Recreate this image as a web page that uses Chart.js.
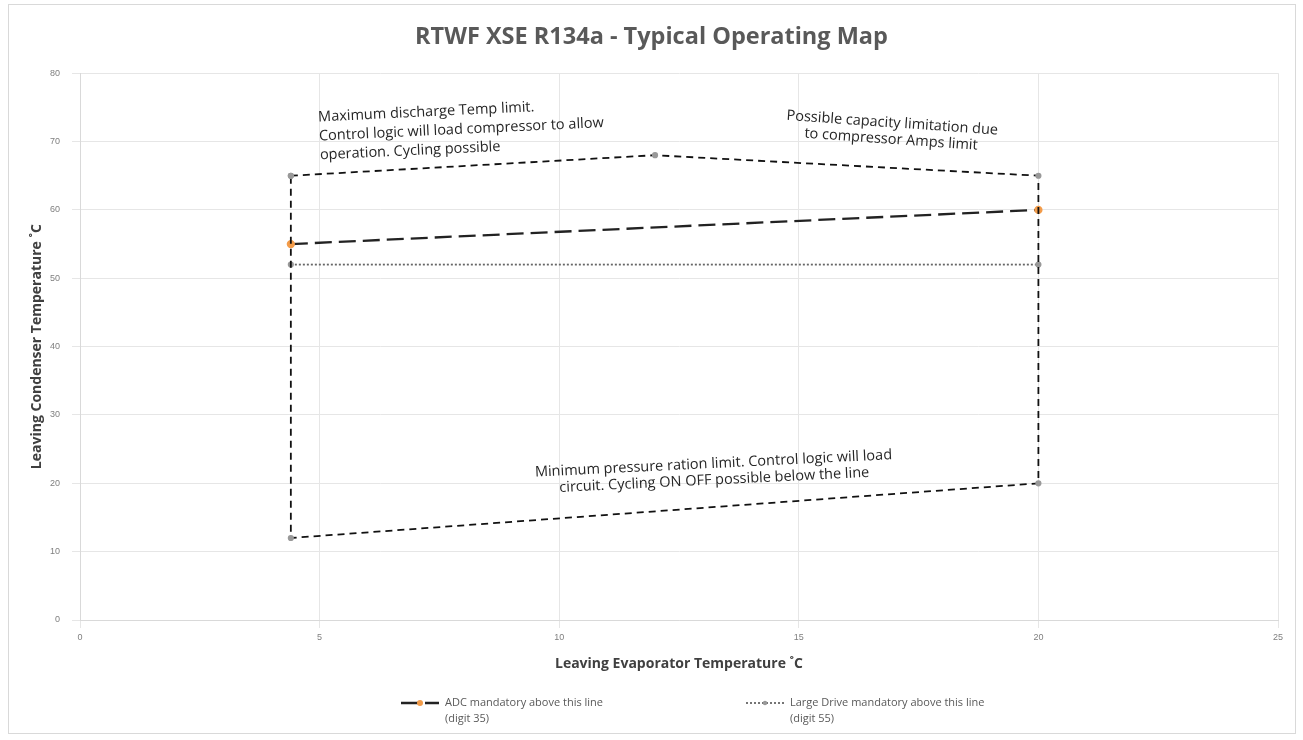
<!DOCTYPE html>
<html>
<head>
<meta charset="utf-8">
<script src="https://cdn.jsdelivr.net/npm/chart.js@4.4.1/dist/chart.umd.min.js"></script>
<style>
  html,body{margin:0;padding:0;background:#fff;}
  #wrap{position:absolute;left:8px;top:4px;width:1288px;height:730px;border:1px solid #d9d9d9;box-sizing:border-box;}
  canvas{display:block;}
</style>
</head>
<body>
<div id="wrap"><canvas id="c"></canvas></div>
<script>
// operating envelope (closed outline)
const envX = [4.4, 12, 20, 20, 4.4, 4.4];
const envY = [65, 68, 65, 20, 12, 65];
// ADC mandatory above this line (digit 35)
const adcX = [4.4, 20];
const adcY = [55, 60];
// Large Drive mandatory above this line (digit 55)
const driveX = [4.4, 20];
const driveY = [52, 52];

const xTicks = {min:0, max:25, step:5};
const yTicks = {min:0, max:80, step:10};

const notes = [
  {x:4.97, y:73.55, align:'left', rot:-2.7, gap:19, lines:['Maximum discharge Temp limit.','Control logic will load compressor to allow','operation. Cycling possible']},
  {x:16.95, y:72.7, align:'center', rot:4, gap:16.5, lines:['Possible capacity limitation due','to compressor Amps limit']},
  {x:13.22, y:22.86, align:'center', rot:-2.8, gap:16.5, lines:['Minimum pressure ration limit. Control logic will load','circuit. Cycling ON OFF possible below the line']}
];

const legendItems = [
  {ds:1, x:392, text:['ADC mandatory above this line','(digit 35)']},
  {ds:2, x:737, text:['Large Drive mandatory above this line','(digit 55)']}
];

const pts = (xs, ys) => xs.map((x,i)=>({x, y:ys[i]}));
const FONT = '"Open Sans", "Noto Sans", sans-serif';

const notePlugin = {
  id:'notes',
  afterDatasetsDraw(chart){
    const {ctx, scales:{x, y}} = chart;
    ctx.save();
    ctx.fillStyle = '#262626';
    ctx.font = '14.5px ' + FONT;
    ctx.textBaseline = 'middle';
    notes.forEach(n=>{
      ctx.save();
      ctx.translate(x.getPixelForValue(n.x), y.getPixelForValue(n.y));
      ctx.rotate(n.rot*Math.PI/180);
      ctx.textAlign = n.align;
      n.lines.forEach((t,i)=> ctx.fillText(t, 0, i*n.gap));
      ctx.restore();
    });
    ctx.restore();
  },
  afterDraw(chart){
    // legend with two-line labels
    const ctx = chart.ctx;
    ctx.save();
    legendItems.forEach(it=>{
      const ds = chart.data.datasets[it.ds];
      const y0 = 698;
      ctx.strokeStyle = ds.borderColor;
      ctx.lineWidth = ds.borderWidth;
      ctx.setLineDash(ds.borderDash);
      ctx.beginPath(); ctx.moveTo(it.x, y0); ctx.lineTo(it.x+38, y0); ctx.stroke();
      ctx.setLineDash([]);
      ctx.fillStyle = ds.pointBackgroundColor;
      ctx.beginPath(); ctx.arc(it.x+19, y0, ds.pointRadius, 0, Math.PI*2); ctx.fill();
      ctx.fillStyle = '#595959';
      ctx.font = '11px ' + FONT;
      ctx.textBaseline = 'middle';
      ctx.textAlign = 'left';
      it.text.forEach((t,i)=> ctx.fillText(t, it.x+44, y0 + i*16));
    });
    ctx.restore();
  }
};

const canvas = document.getElementById('c');
canvas.width = 1286; canvas.height = 728;

new Chart(canvas, {
  type:'scatter',
  data:{ datasets:[
    { label:'envelope', data:pts(envX, envY), showLine:true, borderColor:'#111', borderWidth:1.8,
      borderDash:[7,5], pointRadius:2.2, pointBackgroundColor:'#999', pointBorderColor:'#999', fill:false },
    { label:'ADC mandatory above this line (digit 35)', data:pts(adcX, adcY), showLine:true, borderColor:'#222', borderWidth:2.3,
      borderDash:[17,7], pointRadius:3, pointBackgroundColor:'#f39c4a', pointBorderColor:'#f39c4a' },
    { label:'Large Drive mandatory above this line (digit 55)', data:pts(driveX, driveY), showLine:true, borderColor:'#666', borderWidth:1.8,
      borderDash:[2,2], pointRadius:2.2, pointBackgroundColor:'#999', pointBorderColor:'#999' }
  ]},
  options:{
    responsive:false, animation:false,
    layout:{ padding:{left:16, right:17, top:5, bottom:57} },
    plugins:{
      title:{ display:true, text:'RTWF XSE R134a - Typical Operating Map', color:'#595959',
        font:{size:23.5, weight:'bold', family:FONT}, padding:{top:13, bottom:22} },
      legend:{ display:false },
      tooltip:{enabled:false}
    },
    scales:{
      x:{ type:'linear', min:xTicks.min, max:xTicks.max,
        ticks:{ stepSize:xTicks.step, color:'#7f7f7f', font:{size:9}, padding:4 },
        grid:{ color:'#e6e6e6' }, border:{color:'#d9d9d9'},
        title:{ display:true, text:'Leaving Evaporator Temperature ˚C', color:'#404040',
          font:{size:14, weight:'bold', family:FONT}, padding:{top:6, bottom:4} },
        afterFit(s){ s.height = 56; } },
      y:{ type:'linear', min:yTicks.min, max:yTicks.max,
        ticks:{ stepSize:yTicks.step, color:'#7f7f7f', font:{size:9}, padding:12 },
        grid:{ color:'#e6e6e6' }, border:{color:'#d9d9d9'},
        title:{ display:true, text:'Leaving Condenser Temperature ˚C', color:'#404040',
          font:{size:14, weight:'bold', family:FONT}, padding:{bottom:2} },
        afterFit(s){ s.width = 55; } }
    }
  },
  plugins:[notePlugin]
});
</script>
</body>
</html>
